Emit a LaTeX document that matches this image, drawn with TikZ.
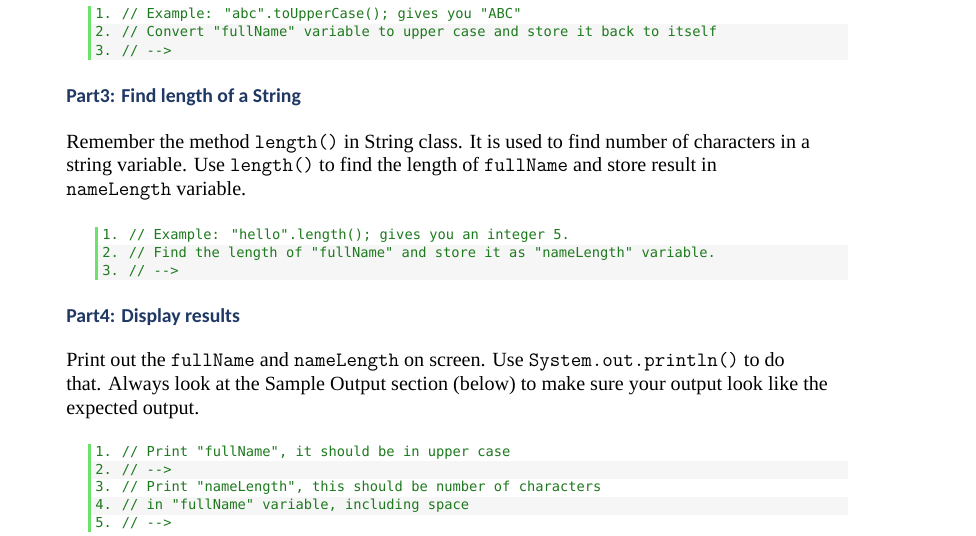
\documentclass[tikz,border=0pt]{standalone}
\usepackage{fontspec}
\setmainfont{Liberation Serif}
\newfontfamily\codef{DejaVu Sans Mono}
\newfontfamily\headf{Carlito}
\begin{document}
\begin{tikzpicture}[x=0.75pt,y=-0.75pt,
  codeline/.style={anchor=west,inner sep=0,font=\codef\fontsize{10.3}{12}\selectfont,text=cgreen},
  para/.style={anchor=west,inner sep=0,font=\fontsize{15.1}{16}\selectfont},
  head/.style={anchor=west,inner sep=0,font=\headf\bfseries\fontsize{14.8}{16}\selectfont,text=hblue}]
\definecolor{cgreen}{HTML}{1E7A1E}
\definecolor{hblue}{HTML}{1F3864}
\definecolor{bar}{HTML}{6CE26C}
\definecolor{lg}{HTML}{F6F6F6}
\newcommand{\ic}[1]{{\ttfamily\fontsize{15.3}{16}\selectfont #1}}
\newcommand{\lnum}[1]{\makebox[20pt][l]{#1}}
\useasboundingbox (0,0) rectangle (976,536);
\fill[white] (0,0) rectangle (976,536);
% block 1
\fill[lg] (88,24) rectangle (848,60);
\fill[bar] (88,6) rectangle (91,60);
\node[codeline] (a1) at (95,15) {\lnum{1.}// Example: "abc".toUpperCase(); gives you "ABC"};
\node[codeline] (a2) at (95,33) {\lnum{2.}// Convert "fullName" variable to upper case and store it back to itself};
\node[codeline] (a3) at (95,51) {\lnum{3.}// -->};
\node[head] (h3) at (66,97) {Part3: Find length of a String};
\node[para] (p1) at (66,144) {Remember the method \ic{length()} in String class. It is used to find number of characters in a};
\node[para] (p2) at (66,167) {string variable. Use \ic{length()} to find the length of \ic{fullName} and store result in};
\node[para] (p3) at (66,191) {\ic{nameLength} variable.};
% block 2
\fill[lg] (95,245) rectangle (848,280);
\fill[bar] (95,227) rectangle (98,280);
\node[codeline] (b1) at (102,236) {\lnum{1.}// Example: "hello".length(); gives you an integer 5.};
\node[codeline] (b2) at (102,254) {\lnum{2.}// Find the length of "fullName" and store it as "nameLength" variable.};
\node[codeline] (b3) at (102,271) {\lnum{3.}// -->};
\node[head] (h4) at (66,317) {Part4: Display results};
\node[para] (q1) at (66,362) {Print out the \ic{fullName} and \ic{nameLength} on screen. Use \ic{System.out.println()} to do};
\node[para] (q2) at (66,386) {that. Always look at the Sample Output section (below) to make sure your output look like the};
\node[para] (q3) at (66,410) {expected output.};
% block 3
\fill[lg] (88,461) rectangle (848,479);
\fill[lg] (88,497) rectangle (848,515);
\fill[bar] (88,444) rectangle (91,532);
\node[codeline] (c1) at (95,453) {\lnum{1.}// Print "fullName", it should be in upper case};
\node[codeline] (c2) at (95,470) {\lnum{2.}// -->};
\node[codeline] (c3) at (95,488) {\lnum{3.}// Print "nameLength", this should be number of characters};
\node[codeline] (c4) at (95,506) {\lnum{4.}// in "fullName" variable, including space};
\node[codeline] (c5) at (95,523) {\lnum{5.}// -->};
\end{tikzpicture}
\end{document}
